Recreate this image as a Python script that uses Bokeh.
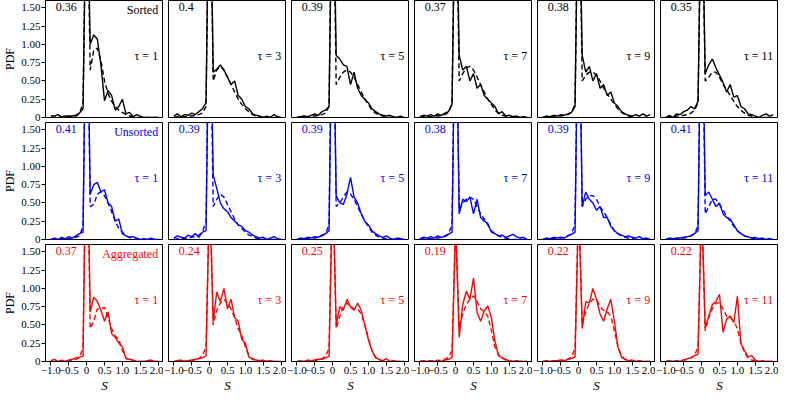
from bokeh.plotting import figure
from bokeh.layouts import gridplot
from bokeh.models import Range1d, FixedTicker, Label, ColumnDataSource, CustomJSTickFormatter
from bokeh.embed import file_html
from bokeh.resources import INLINE

FONT = "Liberation Serif"

# ---------------- data ----------------
S = [-1.0, -0.9, -0.8, -0.7, -0.6, -0.5, -0.4, -0.3, -0.2, -0.1, 0.0,
     0.1, 0.2, 0.3, 0.4, 0.5, 0.6, 0.7, 0.8, 0.9, 1.0,
     1.1, 1.2, 1.3, 1.4, 1.5, 1.6, 1.7, 1.8, 1.9, 2.0]

TAU = [1, 3, 5, 7, 9, 11]
ROW_NAMES = ["Sorted", "Unsorted", "Aggregated"]
ROW_COLORS = ["#000000", "#0000ff", "#ff0000"]

SORTED_FRAC = ["0.36", "0.4", "0.39", "0.37", "0.38", "0.35"]
UNSORTED_FRAC = ["0.41", "0.39", "0.39", "0.38", "0.39", "0.41"]
AGG_FRAC = ["0.37", "0.24", "0.25", "0.19", "0.22", "0.22"]

Y_TICKS = [0, 0.25, 0.5, 0.75, 1.0, 1.25, 1.5]
X_TICKS = [-1.0, -0.5, 0, 0.5, 1.0, 1.5, 2.0]

SORTED_EMP = [
    [0.02,0.02,0.04,0.01,0.02,0.02,0.02,0.03,0.06,0.12,3.6,1.00,1.13,1.07,0.72,0.23,0.37,0.30,0.10,0.15,0.25,0.05,0.07,0.01,0.04,0.02,0.00,0.00,0.00,0.00,0.00],
    [0.02,0.05,0.01,0.04,0.03,0.06,0.04,0.08,0.12,0.20,4.0,0.62,0.66,0.72,0.65,0.55,0.45,0.50,0.30,0.25,0.15,0.12,0.05,0.03,0.02,0.00,0.02,0.00,0.04,0.01,0.00],
    [0.00,0.01,0.02,0.01,0.03,0.05,0.03,0.08,0.10,0.15,3.9,0.85,0.80,0.72,0.70,0.45,0.62,0.40,0.30,0.25,0.20,0.12,0.08,0.05,0.03,0.02,0.03,0.01,0.00,0.02,0.00],
    [0.01,0.03,0.02,0.04,0.02,0.05,0.03,0.06,0.08,0.18,3.7,0.85,0.65,0.70,0.50,0.60,0.40,0.45,0.30,0.25,0.20,0.15,0.05,0.08,0.02,0.03,0.01,0.02,0.00,0.01,0.00],
    [0.00,0.02,0.01,0.03,0.02,0.04,0.03,0.05,0.07,0.15,3.8,0.85,0.62,0.70,0.50,0.60,0.40,0.45,0.30,0.35,0.20,0.15,0.08,0.05,0.03,0.02,0.04,0.02,0.05,0.02,0.04],
    [0.00,0.03,0.00,0.05,0.04,0.08,0.10,0.15,0.12,0.22,3.5,0.60,0.72,0.80,0.68,0.58,0.48,0.35,0.45,0.28,0.30,0.15,0.12,0.05,0.04,0.02,0.00,0.03,0.05,0.02,0.04],
]
SORTED_FIT = [
    [0.00,0.00,0.01,0.00,0.01,0.01,0.01,0.02,0.05,0.20,3.6,0.65,0.92,0.95,0.78,0.50,0.33,0.22,0.15,0.10,0.07,0.04,0.02,0.01,0.00,0.00,0.00,0.00,0.00,0.00,0.00],
    [0.00,0.01,0.01,0.01,0.02,0.02,0.03,0.04,0.06,0.15,4.0,0.50,0.65,0.70,0.65,0.55,0.45,0.35,0.25,0.18,0.12,0.08,0.04,0.02,0.01,0.00,0.00,0.00,0.00,0.00,0.00],
    [0.00,0.01,0.01,0.01,0.02,0.02,0.03,0.04,0.06,0.15,3.9,0.45,0.55,0.62,0.65,0.62,0.55,0.45,0.35,0.25,0.18,0.10,0.06,0.03,0.02,0.01,0.00,0.00,0.00,0.00,0.00],
    [0.00,0.01,0.01,0.01,0.02,0.02,0.03,0.04,0.07,0.20,3.7,0.50,0.60,0.68,0.70,0.65,0.55,0.45,0.35,0.25,0.18,0.10,0.06,0.03,0.02,0.01,0.00,0.00,0.00,0.00,0.00],
    [0.00,0.01,0.01,0.01,0.02,0.02,0.03,0.04,0.07,0.18,3.8,0.50,0.58,0.62,0.62,0.58,0.50,0.40,0.32,0.25,0.18,0.12,0.07,0.04,0.02,0.01,0.00,0.00,0.00,0.00,0.00],
    [0.00,0.01,0.01,0.02,0.02,0.03,0.04,0.06,0.10,0.20,3.5,0.50,0.55,0.62,0.62,0.55,0.45,0.38,0.30,0.22,0.15,0.10,0.06,0.03,0.02,0.01,0.00,0.00,0.00,0.00,0.00],
]

UNSORTED_EMP = [
    [0.00,0.02,0.00,0.03,0.01,0.04,0.02,0.05,0.08,0.10,4.1,0.62,0.75,0.78,0.65,0.68,0.50,0.45,0.25,0.28,0.08,0.05,0.03,0.04,0.02,0.00,0.01,0.00,0.02,0.00,0.00],
    [0.02,0.05,0.03,0.02,0.06,0.04,0.08,0.03,0.10,0.12,3.9,0.88,0.70,0.50,0.42,0.38,0.30,0.25,0.20,0.18,0.12,0.10,0.06,0.04,0.02,0.03,0.00,0.02,0.04,0.01,0.00],
    [0.00,0.02,0.01,0.03,0.02,0.04,0.03,0.06,0.08,0.12,3.9,0.60,0.50,0.48,0.62,0.85,0.58,0.50,0.35,0.25,0.20,0.12,0.08,0.05,0.03,0.05,0.02,0.00,0.02,0.01,0.00],
    [0.01,0.03,0.02,0.04,0.02,0.05,0.03,0.04,0.07,0.10,3.8,0.35,0.55,0.52,0.58,0.35,0.55,0.30,0.25,0.22,0.10,0.08,0.05,0.06,0.03,0.05,0.07,0.04,0.02,0.03,0.00],
    [0.00,0.02,0.01,0.03,0.02,0.03,0.02,0.05,0.07,0.10,3.9,0.45,0.65,0.55,0.50,0.40,0.45,0.30,0.30,0.18,0.12,0.08,0.06,0.04,0.05,0.03,0.02,0.04,0.01,0.02,0.00],
    [0.00,0.02,0.01,0.02,0.02,0.03,0.04,0.05,0.08,0.12,4.1,0.60,0.65,0.55,0.45,0.50,0.35,0.30,0.28,0.20,0.12,0.08,0.05,0.04,0.02,0.03,0.01,0.02,0.00,0.01,0.00],
]
UNSORTED_FIT = [
    [0.00,0.00,0.00,0.01,0.01,0.01,0.02,0.03,0.05,0.18,4.1,0.45,0.48,0.62,0.65,0.60,0.50,0.38,0.25,0.15,0.10,0.05,0.03,0.01,0.00,0.00,0.00,0.00,0.00,0.00,0.00],
    [0.00,0.01,0.01,0.01,0.02,0.03,0.04,0.06,0.10,0.25,3.9,0.45,0.55,0.62,0.58,0.48,0.38,0.28,0.20,0.15,0.10,0.06,0.04,0.02,0.01,0.00,0.00,0.00,0.00,0.00,0.00],
    [0.00,0.01,0.01,0.01,0.02,0.02,0.03,0.05,0.08,0.20,3.9,0.45,0.50,0.58,0.65,0.62,0.55,0.45,0.35,0.25,0.18,0.10,0.06,0.03,0.02,0.01,0.00,0.00,0.00,0.00,0.00],
    [0.00,0.01,0.01,0.01,0.02,0.02,0.03,0.05,0.08,0.20,3.8,0.40,0.50,0.55,0.58,0.55,0.45,0.35,0.28,0.20,0.12,0.08,0.05,0.03,0.02,0.01,0.00,0.00,0.00,0.00,0.00],
    [0.00,0.01,0.01,0.01,0.02,0.02,0.03,0.05,0.08,0.20,3.9,0.45,0.55,0.60,0.60,0.55,0.45,0.38,0.30,0.20,0.12,0.08,0.05,0.03,0.02,0.01,0.00,0.00,0.00,0.00,0.00],
    [0.00,0.01,0.01,0.01,0.02,0.02,0.03,0.05,0.08,0.18,4.1,0.35,0.45,0.55,0.55,0.48,0.40,0.32,0.25,0.18,0.12,0.08,0.05,0.03,0.02,0.01,0.00,0.00,0.00,0.00,0.00],
]

AGG_EMP = [
    [0.01,0.03,0.00,0.02,0.00,0.02,0.03,0.05,0.06,0.07,3.7,0.68,0.88,0.82,0.70,0.55,0.68,0.38,0.33,0.25,0.20,0.04,0.03,0.02,0.00,0.00,0.00,0.01,0.02,0.00,0.00],
    [0.00,0.01,0.02,0.00,0.01,0.02,0.03,0.04,0.05,0.08,2.4,0.55,0.95,0.82,1.00,0.72,0.85,0.60,0.55,0.30,0.25,0.06,0.04,0.02,0.01,0.02,0.00,0.01,0.00,0.00,0.00],
    [0.00,0.01,0.00,0.02,0.01,0.02,0.03,0.03,0.05,0.07,2.5,0.50,0.75,0.70,0.85,0.75,0.70,0.80,0.70,0.50,0.30,0.15,0.05,0.03,0.01,0.04,0.00,0.01,0.00,0.00,0.00],
    [0.00,0.01,0.00,0.01,0.00,0.02,0.00,0.02,0.03,0.05,1.9,0.33,0.78,0.96,0.85,1.14,0.67,0.55,0.69,0.76,0.60,0.28,0.08,0.05,0.03,0.01,0.00,0.01,0.00,0.00,0.00],
    [0.00,0.01,0.00,0.01,0.01,0.02,0.01,0.03,0.04,0.06,2.2,0.45,0.82,0.80,1.00,0.85,0.65,0.55,0.72,0.85,0.55,0.20,0.06,0.03,0.01,0.02,0.00,0.01,0.00,0.00,0.00],
    [0.00,0.01,0.00,0.01,0.00,0.02,0.04,0.05,0.08,0.10,2.2,0.46,0.62,0.78,0.82,0.92,0.40,0.58,0.62,0.53,0.89,0.24,0.15,0.06,0.08,0.02,0.00,0.01,0.00,0.00,0.00],
]
AGG_FIT = [
    [0.00,0.00,0.00,0.00,0.01,0.01,0.02,0.03,0.05,0.20,3.7,0.45,0.55,0.72,0.72,0.74,0.60,0.45,0.35,0.30,0.15,0.05,0.02,0.01,0.00,0.00,0.00,0.00,0.00,0.00,0.00],
    [0.00,0.00,0.00,0.00,0.01,0.01,0.02,0.04,0.08,0.20,2.4,0.50,0.70,0.80,0.85,0.80,0.72,0.60,0.45,0.35,0.20,0.08,0.03,0.01,0.00,0.00,0.00,0.00,0.00,0.00,0.00],
    [0.00,0.00,0.00,0.00,0.01,0.01,0.02,0.04,0.07,0.18,2.5,0.45,0.62,0.75,0.80,0.75,0.72,0.72,0.65,0.50,0.32,0.15,0.06,0.02,0.01,0.00,0.00,0.00,0.00,0.00,0.00],
    [0.00,0.00,0.00,0.00,0.01,0.01,0.02,0.03,0.06,0.15,1.9,0.46,0.65,0.78,0.85,0.90,0.82,0.72,0.68,0.62,0.42,0.20,0.10,0.05,0.02,0.01,0.00,0.00,0.00,0.00,0.00],
    [0.00,0.00,0.00,0.00,0.01,0.01,0.02,0.03,0.06,0.18,2.2,0.50,0.68,0.80,0.85,0.85,0.75,0.70,0.68,0.62,0.42,0.20,0.08,0.03,0.01,0.00,0.00,0.00,0.00,0.00,0.00],
    [0.00,0.00,0.00,0.00,0.01,0.02,0.03,0.05,0.08,0.20,2.2,0.42,0.60,0.72,0.80,0.80,0.72,0.62,0.60,0.55,0.45,0.25,0.12,0.05,0.02,0.01,0.00,0.00,0.00,0.00,0.00],
]

ROWS = [
    (ROW_NAMES[0], ROW_COLORS[0], SORTED_EMP, SORTED_FIT, SORTED_FRAC),
    (ROW_NAMES[1], ROW_COLORS[1], UNSORTED_EMP, UNSORTED_FIT, UNSORTED_FRAC),
    (ROW_NAMES[2], ROW_COLORS[2], AGG_EMP, AGG_FIT, AGG_FRAC),
]

# ---------------- figures ----------------
FW, FH = 118, 117

grid_rows = []
for r, (name, color, emp_rows, fit_rows, fracs) in enumerate(ROWS):
    fig_row = []
    for c in range(6):
        left = c == 0
        bottom = r == 2
        p = figure(frame_width=FW, frame_height=FH,
                   output_backend="svg", toolbar_location=None, tools="",
                   x_range=Range1d(-1.15, 2.15), y_range=Range1d(0, 1.6),
                   x_axis_location="below" if bottom else None,
                   y_axis_location="left" if left else None,
                   min_border=0,
                   min_border_left=0 if left else 5,
                   min_border_bottom=0 if bottom else 5,
                   min_border_top=0, min_border_right=0)
        p.grid.visible = False
        p.outline_line_color = "black"
        p.outline_line_width = 1
        p.outline_line_alpha = 1
        p.background_fill_color = "white"
        p.border_fill_color = "white"

        for ax in p.axis:
            ax.major_label_text_font = FONT
            ax.major_label_text_font_size = "11px"
            ax.major_label_text_color = "black"
            ax.axis_label_text_font = FONT
            ax.axis_label_text_color = "black"
            ax.axis_line_color = "black"
            ax.major_tick_line_color = "black"
            ax.major_tick_in = 0
            ax.major_tick_out = 4
            ax.minor_tick_line_color = None
            ax.major_label_standoff = 1
            ax.axis_label_standoff = 1
        if left:
            ya = p.yaxis[0]
            ya.ticker = FixedTicker(ticks=Y_TICKS)
            ya.formatter = CustomJSTickFormatter(
                code="return tick == 0 ? '0' : tick.toFixed(2);")
            ya.axis_label = "PDF"
            ya.axis_label_text_font_style = "normal"
            ya.axis_label_text_font_size = "12px"
        if bottom:
            xa = p.xaxis[0]
            xa.ticker = FixedTicker(ticks=X_TICKS)
            xa.formatter = CustomJSTickFormatter(
                code="return Math.abs(tick) < 1e-9 ? '0' : tick.toFixed(1).replace('-', '\u2212');")
            xa.axis_label = "S"
            xa.axis_label_text_font_style = "italic"
            xa.axis_label_text_font_size = "13px"

        src = ColumnDataSource(dict(s=S, emp=emp_rows[c], fit=fit_rows[c]))
        p.line("s", "fit", source=src, line_color=color, line_width=1.4, line_dash="5 3")
        p.line("s", "emp", source=src, line_color=color, line_width=1.4)

        p.add_layout(Label(x=-0.86, y=1.57, text=fracs[c], text_align="left",
                           text_baseline="top", text_font=FONT,
                           text_font_size="12px", text_color=color))
        if left:
            p.add_layout(Label(x=2.0, y=1.57, text=name, text_align="right",
                               text_baseline="top", text_font=FONT,
                               text_font_size="12px", text_color=color))
        p.add_layout(Label(x=2.0, y=0.84, text="\u03c4 = %d" % TAU[c], text_align="right",
                           text_baseline="middle", text_font=FONT,
                           text_font_size="12px", text_color=color))
        fig_row.append(p)
    grid_rows.append(fig_row)

grid = gridplot(grid_rows, toolbar_location=None)

open("out.html", "w").write(file_html(grid, INLINE))
